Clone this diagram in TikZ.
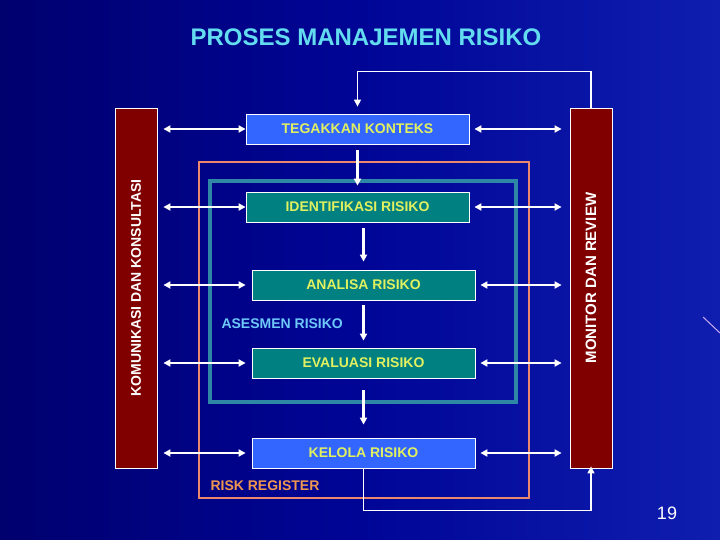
\documentclass[tikz,border=0pt]{standalone}
\usepackage{fontspec}
\setmainfont{Liberation Sans}
\usepackage{xcolor}
\usepackage{tikz}
\usetikzlibrary{calc}
\usetikzlibrary{arrows.meta}
\usetikzlibrary{positioning}

\definecolor{bgdark}{RGB}{0,0,110}
\definecolor{bgmid}{RGB}{0,5,150}
\definecolor{bglight}{RGB}{15,30,175}
\definecolor{barred}{RGB}{128,0,0}
\definecolor{boxblue}{RGB}{51,102,255}
\definecolor{boxteal}{RGB}{0,128,128}
\definecolor{txtyellow}{RGB}{225,240,95}
\definecolor{titlecyan}{RGB}{100,220,240}
\definecolor{asesblue}{RGB}{110,200,250}
\definecolor{regorange}{RGB}{240,150,80}
\definecolor{regline}{RGB}{235,135,110}
\definecolor{asesline}{RGB}{45,135,165}
\definecolor{streak}{RGB}{200,170,240}

\begin{document}
\begin{tikzpicture}[x=1pt, y=-1pt, node distance=78pt, on grid,
      >={Triangle[length=7pt,width=7pt]},
      every node/.style={font=\bfseries\fontsize{14}{16}\selectfont},
      proc/.style={draw=white, line width=0.8pt, minimum width=223pt, minimum height=30pt, inner sep=0pt, text=txtyellow},
      side/.style={draw=white, line width=0.8pt, fill=barred, minimum width=42pt, minimum height=360pt, inner sep=0pt},
      sidetext/.style={text=white, rotate=90},
      lk/.style={white, line width=2.4pt},
      fb/.style={white, line width=1.4pt}]

      % background
      \shade[left color=bgdark, right color=bglight, middle color=bgmid] (0,0) rectangle (720,540);
      \useasboundingbox (0,0) rectangle (720,540);
      \draw[streak, line width=1pt] (703,317) -- (720,333);

      % frames
      \draw[regline, line width=1.4pt] (199,162) rectangle (529,498);
      \draw[asesline, line width=3.5pt] (210,181) rectangle (516,402);

      \node[font=\bfseries\fontsize{24}{28}\selectfont, text=titlecyan] (title) at (366,37) {PROSES MANAJEMEN RISIKO};

      \node[side] (kom) at (136,288) {};
      \node[sidetext] (komtext) at (kom.center) {KOMUNIKASI DAN KONSULTASI};
      \node[side] (mon) at (591,288) {};
      \node[sidetext, font=\bfseries\fontsize{15}{17}\selectfont] (montext) at ([yshift=10pt]mon.center) {MONITOR DAN REVIEW};

      \node[proc, fill=boxblue] (tegak) at (357.5,129) {TEGAKKAN KONTEKS};
      \node[proc, fill=boxteal] (ident) [below=of tegak] {IDENTIFIKASI RISIKO};
      \node[proc, fill=boxteal] (analisa) [below=of ident, xshift=6pt] {ANALISA RISIKO};
      \node[proc, fill=boxteal] (evaluasi) [below=of analisa] {EVALUASI RISIKO};
      \node[proc, fill=boxblue] (kelola) [below=of evaluasi, yshift=-12pt] {KELOLA RISIKO};

      \node[text=asesblue, anchor=west] (asesmen) at (218,324) {ASESMEN RISIKO};
      \node[text=regorange, anchor=west] (register) at (207,486) {RISK REGISTER};
      \node[font=\fontsize{18}{20}\selectfont, text=white] (page) at (667,513) {19};

      % process flow
      \path[->, lk]
        (tegak) edge [shorten <=6pt, shorten >=6pt] (ident)
        (analisa.north |- ident.south) edge [shorten <=6pt, shorten >=8pt] (analisa.north)
        (analisa) edge [shorten <=5pt, shorten >=7pt] (evaluasi)
        (evaluasi) edge [shorten <=12pt, shorten >=13pt] (kelola)
        ;

      % komunikasi dan konsultasi
      \path[<->, lk]
        (tegak.west -| kom.east) edge [shorten <=6pt] (tegak.west)
        (ident.west -| kom.east) edge [shorten <=6pt] (ident.west)
        (analisa.west -| kom.east) edge [shorten <=6pt] (analisa.west -| tegak.west)
        (evaluasi.west -| kom.east) edge [shorten <=6pt] (evaluasi.west -| tegak.west)
        (kelola.west -| kom.east) edge [shorten <=6pt] (kelola.west -| tegak.west)
        ;

      % monitor dan review
      \path[<->, lk]
        (tegak.east) edge [shorten <=5pt, shorten >=8pt] (tegak.east -| mon.west)
        (ident.east) edge [shorten <=5pt, shorten >=8pt] (ident.east -| mon.west)
        (analisa.east) edge [shorten <=5pt, shorten >=8pt] (analisa.east -| mon.west)
        (evaluasi.east) edge [shorten <=5pt, shorten >=8pt] (evaluasi.east -| mon.west)
        (kelola.east) edge [shorten <=5pt, shorten >=8pt] (kelola.east -| mon.west)
        ;

      % feedback
      \draw[fb, ->, shorten >=7pt] (mon.north) -- ++(0,-36) -| (tegak.north);
      \draw[fb, ->, shorten >=-2pt] (kelola.south) -- ++(0,42) -| (mon.south);

\end{tikzpicture}
\end{document}
